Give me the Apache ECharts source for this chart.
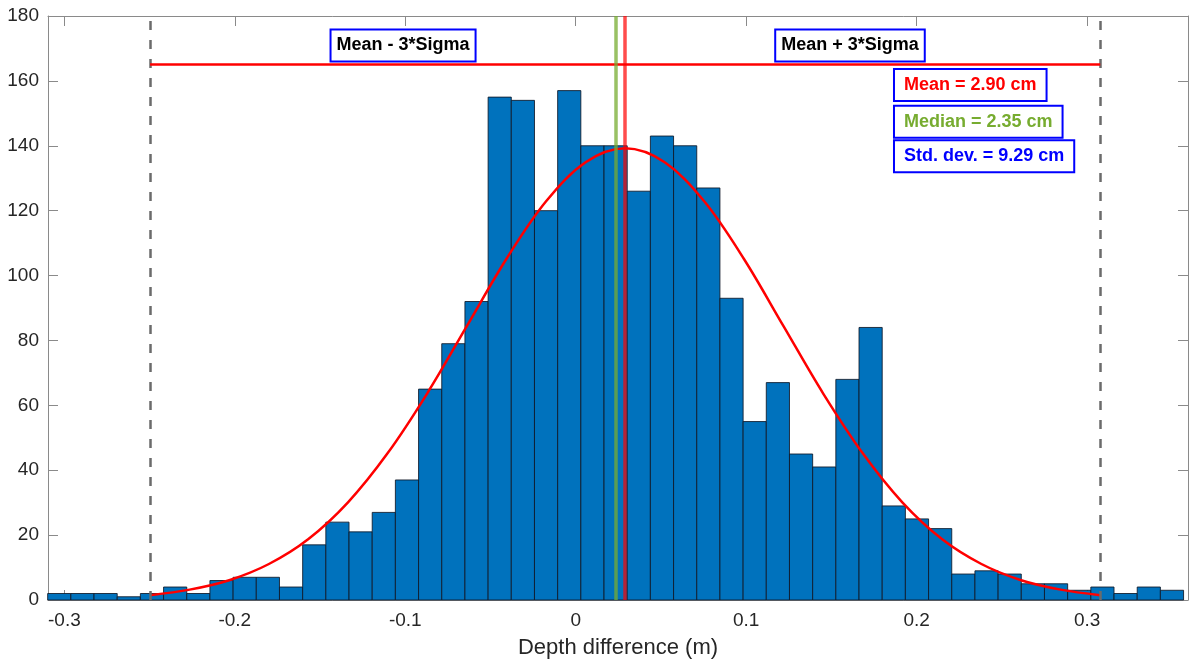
<!DOCTYPE html>
<html>
<head>
<meta charset="utf-8">
<script src="https://cdn.jsdelivr.net/npm/echarts@6/dist/echarts.min.js"></script>
<style>
html,body{margin:0;padding:0;background:#fff;}
#chart{width:1190px;height:664px;}
</style>
</head>
<body>
<div id="chart"></div>
<script>
// ---- data ----
const binStart = -0.3098;
const binWidth = 0.0136;
const binCounts = [2, 2, 2, 1, 2, 4, 2, 6, 7, 7, 4, 17, 24, 21, 27, 37, 65, 79, 92, 155,
  154, 120, 157, 140, 140, 126, 143, 140, 127, 93, 55, 67, 45, 41, 68, 84, 29, 25, 22, 8,
  9, 8, 5, 5, 3, 4, 2, 4, 3];

const curveX = [-0.2497, -0.2265, -0.2033, -0.1800, -0.1568, -0.1336, -0.1104, -0.0871, -0.0639,
  -0.0407, -0.0175, 0.0058, 0.0290, 0.0522, 0.0755, 0.0987, 0.1219, 0.1451, 0.1684, 0.1916,
  0.2148, 0.2380, 0.2613, 0.2845, 0.3077];
const curveY = [1.5, 3.2, 6.1, 11.1, 18.8, 30.1, 45.2, 63.7, 84.4, 105.1, 122.8, 134.9, 139.2,
  134.9, 122.8, 105.1, 84.4, 63.7, 45.2, 30.1, 18.8, 11.1, 6.1, 3.2, 1.5];

const meanVal = 0.0290;
const medianVal = 0.0235;
const sigmaVal = 0.0929;
const sigmaLineY = 165;

const xTickValues = [-0.3, -0.2, -0.1, 0, 0.1, 0.2, 0.3];
const xTickLabels = ['-0.3', '-0.2', '-0.1', '0', '0.1', '0.2', '0.3'];
const xLabelText = 'Depth difference (m)';
const lowLabel = 'Mean - 3*Sigma';
const highLabel = 'Mean + 3*Sigma';
const meanLabel = 'Mean = 2.90 cm';
const medianLabel = 'Median = 2.35 cm';
const stdLabel = 'Std. dev. = 9.29 cm';

// ---- chart ----
const FONT = "'Liberation Sans', Arial, Helvetica, sans-serif";
const lo = meanVal - 3 * sigmaVal;
const hi = meanVal + 3 * sigmaVal;

const bars = binCounts.map((c, i) => [binStart + i * binWidth, binStart + (i + 1) * binWidth, c]);
const curve = curveX.map((x, i) => [x, curveY[i]]);

const axisLineStyle = { color: '#8a8a8a', width: 1 };
const chart = echarts.init(document.getElementById('chart'), null, { renderer: 'canvas' });

function boxLabel(color, pos, padH) {
  return {
    show: true,
    position: pos,
    distance: 0,
    color: color,
    fontFamily: FONT,
    fontWeight: 'bold',
    fontSize: 18,
    lineHeight: 20,
    padding: [5, padH, 5, padH],
    borderColor: '#0000ff',
    borderWidth: 2,
    backgroundColor: '#ffffff',
    textBorderWidth: 0,
    textShadowBlur: 0,
    opacity: 1,
    formatter: p => p.name
  };
}

const option = {
  animation: false,
  backgroundColor: '#ffffff',
  grid: { left: 48, right: 2, top: 16, bottom: 62, containLabel: false },
  xAxis: [
    {
      type: 'value', min: -0.3096, max: 0.3592,
      axisLine: { show: true, onZero: false, lineStyle: axisLineStyle },
      axisTick: { show: true, inside: true, length: 10, lineStyle: axisLineStyle, customValues: xTickValues },
      axisLabel: {
        show: true, customValues: xTickValues, margin: 11,
        color: '#262626', fontSize: 19, fontFamily: FONT,
        formatter: v => xTickLabels[xTickValues.findIndex(t => Math.abs(t - v) < 1e-9)] ?? ''
      },
      splitLine: { show: false },
      name: xLabelText, nameLocation: 'middle', nameGap: 37,
      nameTextStyle: { color: '#262626', fontSize: 22, fontFamily: FONT }
    },
    {
      type: 'value', min: -0.3096, max: 0.3592, position: 'top',
      axisLine: { show: true, onZero: false, lineStyle: axisLineStyle },
      axisTick: { show: true, inside: true, length: 10, lineStyle: axisLineStyle, customValues: xTickValues },
      axisLabel: { show: false },
      splitLine: { show: false }
    }
  ],
  yAxis: [
    {
      type: 'value', min: 0, max: 180, interval: 20,
      axisLine: { show: true, onZero: false, lineStyle: axisLineStyle },
      axisTick: { show: true, inside: true, length: 10, lineStyle: axisLineStyle },
      axisLabel: { color: '#262626', fontSize: 19, fontFamily: FONT, margin: 9 },
      splitLine: { show: false }
    },
    {
      type: 'value', min: 0, max: 180, interval: 20, position: 'right',
      axisLine: { show: true, onZero: false, lineStyle: axisLineStyle },
      axisTick: { show: true, inside: true, length: 10, lineStyle: axisLineStyle },
      axisLabel: { show: false },
      splitLine: { show: false }
    }
  ],
  series: [
    {
      type: 'custom',
      name: 'hist',
      xAxisIndex: 0, yAxisIndex: 0,
      data: bars,
      encode: { x: [0, 1], y: 2 },
      renderItem: function (params, api) {
        const p0 = api.coord([api.value(0), api.value(2)]);
        const p1 = api.coord([api.value(1), 0]);
        return {
          type: 'rect',
          shape: { x: p0[0], y: p0[1], width: p1[0] - p0[0], height: p1[1] - p0[1] },
          style: { fill: '#0072bd', stroke: 'rgba(15,25,40,0.85)', lineWidth: 1 }
        };
      },
      z: 1
    },
    {
      type: 'line',
      name: 'fit',
      data: curve,
      smooth: 0.35,
      showSymbol: false,
      lineStyle: { color: '#ff0000', width: 2.5 },
      z: 3,
      markLine: {
        silent: true, symbol: ['none', 'none'], label: { show: false },
        data: [
          [{ coord: [lo, 0], lineStyle: { color: '#6b6b6b', width: 2.5, type: [9, 10] } }, { coord: [lo, 180] }],
          [{ coord: [hi, 0], lineStyle: { color: '#6b6b6b', width: 2.5, type: [9, 10] } }, { coord: [hi, 180] }],
          [{ coord: [lo, sigmaLineY], lineStyle: { color: '#ff0000', width: 2.5, type: 'solid' } }, { coord: [hi, sigmaLineY] }],
          [{ coord: [medianVal, 0], lineStyle: { color: 'rgba(119,172,48,0.75)', width: 3.5, type: 'solid' } }, { coord: [medianVal, 180] }],
          [{ coord: [meanVal, 0], lineStyle: { color: 'rgba(255,0,0,0.7)', width: 3.5, type: 'solid' } }, { coord: [meanVal, 180] }]
        ]
      }
    },
    {
      type: 'scatter',
      name: 'notes',
      symbolSize: 0,
      silent: true,
      itemStyle: { opacity: 1 },
      z: 10,
      data: [
        { name: lowLabel, value: [-0.1013, 170.9], label: boxLabel('#000000', 'inside', 5) },
        { name: highLabel, value: [0.1609, 170.9], label: boxLabel('#000000', 'inside', 5) },
        { name: meanLabel, value: [0.1873, 158.7], label: boxLabel('#ff0000', 'right', 9) },
        { name: medianLabel, value: [0.1873, 147.4], label: boxLabel('#77ac30', 'right', 9) },
        { name: stdLabel, value: [0.1873, 136.8], label: boxLabel('#0000ff', 'right', 9) }
      ]
    }
  ]
};
chart.setOption(option);
</script>
</body>
</html>
